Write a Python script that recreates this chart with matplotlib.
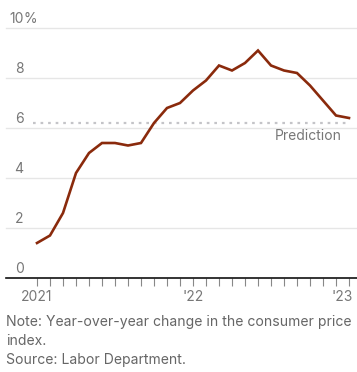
import matplotlib
matplotlib.use("Agg")
import matplotlib.pyplot as plt
import matplotlib.transforms as mtransforms

plt.rcParams['font.family'] = ['Inter', 'DejaVu Sans']

months = list(range(25))  # Jan 2021 .. Jan 2023
cpi = [1.4, 1.7, 2.6, 4.2, 5.0, 5.4, 5.4, 5.3, 5.4, 6.2, 6.8, 7.0,
       7.5, 7.9, 8.5, 8.3, 8.6, 9.1, 8.5, 8.3, 8.2, 7.7, 7.1, 6.5, 6.4]
prediction = 6.2
y_ticks = [0, 2, 4, 6, 8, 10]
y_labels = ["0", "2", "4", "6", "8", "10"]
x_major = [0, 12, 24]
x_labels = ["2021", "'22", "'23"]
note_lines = ["Note: Year-over-year change in the consumer price",
              "index.",
              "Source: Labor Department."]

W, H = 357, 372
fig = plt.figure(figsize=(W / 100, H / 100), dpi=100)

# axes box in pixels: left 6, right 357, y=0 at 278, y=10 at 28
left_px, right_px = 6, 357
bot_px, top_px = 278, 28
ax = fig.add_axes([left_px / W, 1 - bot_px / H, (right_px - left_px) / W, (bot_px - top_px) / H])
x0_px, px_per_month = 37, 13.0
ax.set_xlim((left_px - x0_px) / px_per_month, (right_px - x0_px) / px_per_month)
ax.set_ylim(0, 10)

for s in ["top", "right", "left"]:
    ax.spines[s].set_visible(False)
ax.spines["bottom"].set_color("#111111")
ax.spines["bottom"].set_linewidth(1.2)
ax.set_yticks([])

# gridlines
for t in y_ticks[1:]:
    ax.axhline(t, color="#e6e6e6", lw=1.0, zorder=0, clip_on=False)

# y labels
trans = mtransforms.blended_transform_factory(fig.transFigure, ax.transData)
offset = mtransforms.ScaledTranslation(0, 5 / 100, fig.dpi_scale_trans)
for t, lab in zip(y_ticks, y_labels):
    ax.text(23.5 / W, t, lab, transform=trans + offset, ha="right", va="baseline",
            fontsize=10, color="#777777")
    if t == 10:
        ax.text(23.5 / W, t, "%", transform=trans + offset, ha="left", va="baseline",
                fontsize=10, color="#777777")

# x ticks
ax.set_xticks(x_major)
ax.set_xticks(months, minor=True)
ax.set_xticklabels([])
ax.tick_params(axis="x", which="both", direction="out", length=6, width=0.8,
               color="#888888")
xtrans = mtransforms.blended_transform_factory(ax.transData, fig.transFigure)
for xv, lab in zip(x_major, x_labels):
    if xv == x_major[-1]:
        ax.text(xv + 0.3, 1 - 301 / H, lab, transform=xtrans, ha="right",
                va="baseline", fontsize=10, color="#777777")
    else:
        ax.text(xv, 1 - 301 / H, lab, transform=xtrans, ha="center",
                va="baseline", fontsize=10, color="#777777")

# prediction line
ax.plot([-0.3, 24.1], [prediction, prediction], color="#c4c4c8", lw=1.6,
        linestyle=(0, (1.2, 2.2)), zorder=1, clip_on=False)
ax.text(23.4, prediction - 0.25, "Prediction", ha="right", va="top",
        fontsize=10, color="#777777")

# CPI line
ax.plot(months, cpi, color="#8a2a0c", lw=1.9, zorder=3, clip_on=False,
        solid_joinstyle="miter")

# notes
ys = [326, 345, 364]
for yy, line in zip(ys, note_lines):
    fig.text(6 / W, 1 - yy / H, line, ha="left", va="baseline", fontsize=10.1,
             color="#666666")

fig.savefig("out.png", dpi=100)
